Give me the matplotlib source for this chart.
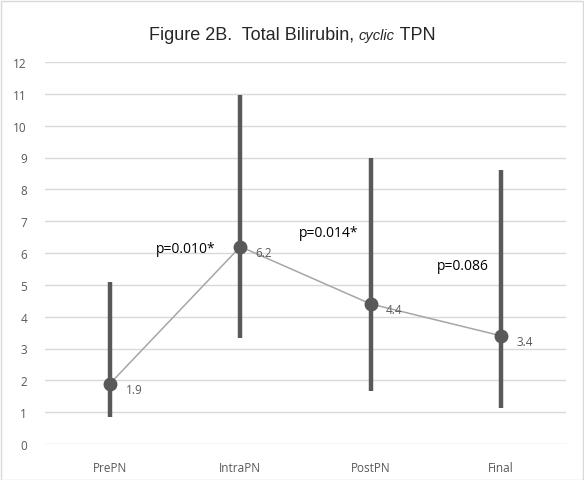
import matplotlib
matplotlib.use("Agg")
import matplotlib.pyplot as plt
from matplotlib.patches import Rectangle

categories = ["PrePN", "IntraPN", "PostPN", "Final"]
means = [1.9, 6.2, 4.4, 3.4]
lows = [0.85, 3.33, 1.65, 1.12]
highs = [5.1, 10.95, 9.0, 8.62]
p_labels = ["p=0.010*", "p=0.014*", "p=0.086"]
p_x = [0.58, 1.68, 2.71]
p_y = [6.13, 6.63, 5.62]

fig = plt.figure(figsize=(5.84, 4.81), dpi=100)
ax = fig.add_axes([45 / 584, 36 / 481, 521 / 584, 382 / 481])

x = list(range(len(categories)))
yerr = [[m - l for m, l in zip(means, lows)], [h - m for m, h in zip(means, highs)]]

ax.errorbar(x, means, yerr=yerr, fmt="none", ecolor="#595959", elinewidth=3.2, capsize=0, zorder=3)
ax.plot(x, means, color="#a6a6a6", linewidth=1.1, zorder=2)
ax.plot(x, means, "o", color="#595959", markersize=9, zorder=4)

for xi, m in zip(x, means):
    ax.annotate(f"{m:.1f}", (xi, m), xytext=(11, -4), textcoords="offset points",
                fontsize=8.5, color="#595959", family="Open Sans", va="center")

for t, px, py in zip(p_labels, p_x, p_y):
    ax.text(px, py, t, fontsize=10, color="black", family="Open Sans", ha="center", va="center")

ax.set_xlim(-0.5, 3.5)
ax.set_ylim(0, 12)
ax.set_yticks(range(0, 13))
ax.set_xticks(x)
ax.set_xticklabels(categories)
ax.yaxis.grid(True, color="#d9d9d9", linewidth=1)
ax.set_axisbelow(True)
for s in ax.spines.values():
    s.set_visible(False)
ax.tick_params(length=0, labelsize=8.5, labelcolor="#595959", pad=12)
ax.tick_params(axis="y", pad=13)
for lab in ax.get_xticklabels() + ax.get_yticklabels():
    lab.set_family("Open Sans")

# title with italic word
fig.canvas.draw()
r = fig.canvas.get_renderer()
parts = [("Figure 2B.  Total Bilirubin, ", "normal", 13), ("cyclic", "italic", 10.5), (" TPN", "normal", 13)]
texts = []
for s, st, sz in parts:
    texts.append(fig.text(0, 0, s, fontsize=sz, style=st, family="Liberation Sans", color="#262626"))
widths = [t.get_window_extent(r).width for t in texts]
xpos = (584 - sum(widths)) / 2
for t, w in zip(texts, widths):
    t.set_position((xpos / 584, (481 - 40) / 481))
    xpos += w

fig.patches.append(Rectangle((0.5 / 584, 0.5 / 481), 582 / 584, 479 / 481, transform=fig.transFigure,
                             fill=False, edgecolor="#d9d9d9", linewidth=1))

fig.savefig("out.png", dpi=100)
